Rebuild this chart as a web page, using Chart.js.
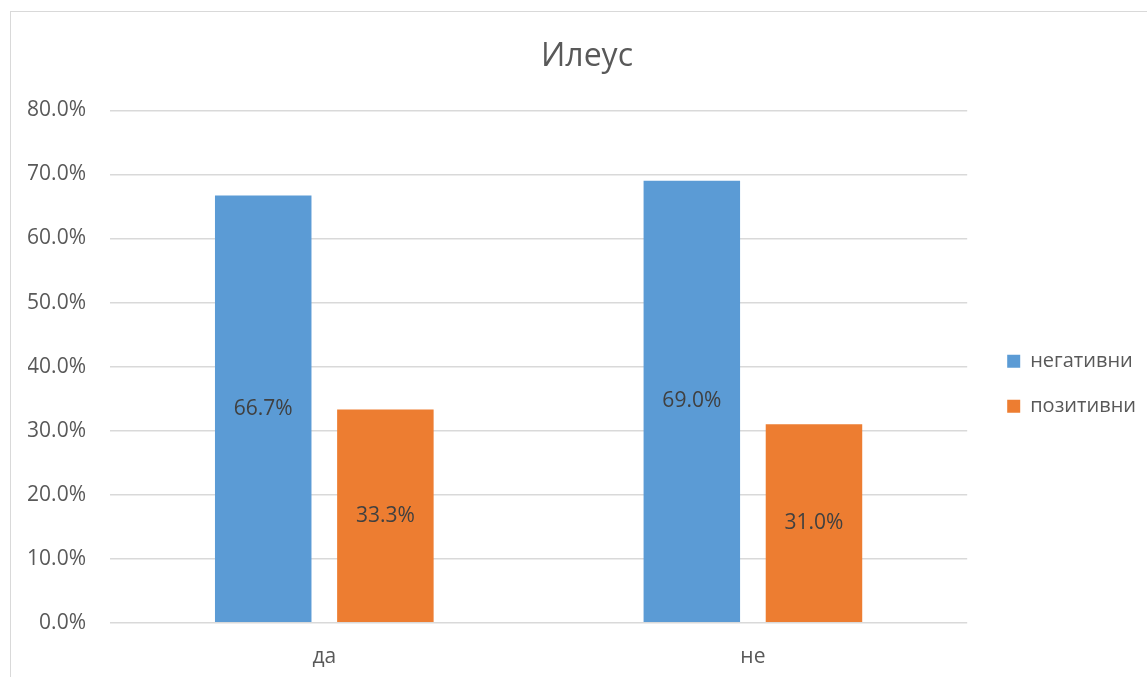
<!DOCTYPE html>
<html>
<head>
<meta charset="utf-8">
<title>Илеус</title>
<script src="https://cdn.jsdelivr.net/npm/chart.js@4/dist/chart.umd.min.js"></script>
<style>
  html, body { margin: 0; padding: 0; background: #fff; overflow: hidden; }
  .frame {
    position: absolute;
    left: 10px;
    top: 11px;
    width: 1150px;
    height: 680px;
    border: 1px solid #d9d9d9;
  }
  canvas { display: block; }
</style>
</head>
<body>
<div class="frame"><canvas id="chart" width="1150" height="680"></canvas></div>
<script>
const categories = ['да', 'не'];
const seriesNames = ['негативни', 'позитивни'];
const negative = [66.7, 69.0];
const positive = [33.3, 31.0];
const yTicks = [0, 10, 20, 30, 40, 50, 60, 70, 80];

const textColor = '#595959';
const fontFamily = '"Open Sans", "DejaVu Sans", sans-serif';
const fontSize = 21;

// value labels drawn in the middle of each bar
const barLabels = {
  id: 'barLabels',
  afterDatasetsDraw(chart) {
    const ctx = chart.ctx;
    ctx.save();
    ctx.font = fontSize + 'px ' + fontFamily;
    ctx.fillStyle = '#404040';
    ctx.textAlign = 'center';
    ctx.textBaseline = 'middle';
    chart.data.datasets.forEach((ds, i) => {
      chart.getDatasetMeta(i).data.forEach((bar, j) => {
        const mid = (bar.y + bar.base) / 2;
        ctx.fillText(ds.data[j].toFixed(1) + '%', bar.x, mid);
      });
    });
    ctx.restore();
  }
};

new Chart(document.getElementById('chart'), {
  type: 'bar',
  data: {
    labels: categories,
    datasets: [
      { label: seriesNames[0], data: negative, backgroundColor: '#5b9bd5' },
      { label: seriesNames[1], data: positive, backgroundColor: '#ed7d31' },
    ],
  },
  options: {
    responsive: false,
    animation: false,
    datasets: {
      bar: { categoryPercentage: 0.57, barPercentage: 0.79 },
    },
    layout: { padding: { left: 17, right: 15, top: 0, bottom: 8 } },
    plugins: {
      title: {
        display: true,
        text: 'Илеус',
        color: textColor,
        font: { family: fontFamily, size: 32, weight: 'normal' },
        padding: { top: 26, bottom: 34 },
      },
      legend: {
        position: 'right',
        // blank title pushes the entries a little below the middle
        title: { display: true, text: ' ', padding: 19, font: { size: 28 } },
        labels: {
          color: textColor,
          font: { family: fontFamily, size: 20 },
          boxWidth: 13,
          boxHeight: 13,
          padding: 25,
        },
      },
      tooltip: { enabled: false },
    },
    scales: {
      x: {
        grid: { display: false },
        border: { display: false },
        ticks: {
          color: textColor,
          font: { family: fontFamily, size: fontSize },
          padding: 14,
        },
      },
      y: {
        min: 0,
        max: 80,
        afterBuildTicks(axis) {
          axis.ticks = yTicks.map(v => ({ value: v }));
        },
        afterFit(axis) { axis.width = 82; },
        grid: { color: '#d9d9d9', lineWidth: 1.5, drawTicks: false },
        border: { display: false },
        ticks: {
          color: textColor,
          font: { family: fontFamily, size: fontSize },
          padding: 24,
          callback: v => v.toFixed(1) + '%',
        },
      },
      // empty strip between the plot and the legend
      gap: {
        type: 'linear',
        position: 'right',
        grid: { display: false },
        border: { display: false },
        ticks: { display: false },
        afterFit(axis) { axis.width = 15; },
      },
    },
  },
  plugins: [barLabels],
});
</script>
</body>
</html>
